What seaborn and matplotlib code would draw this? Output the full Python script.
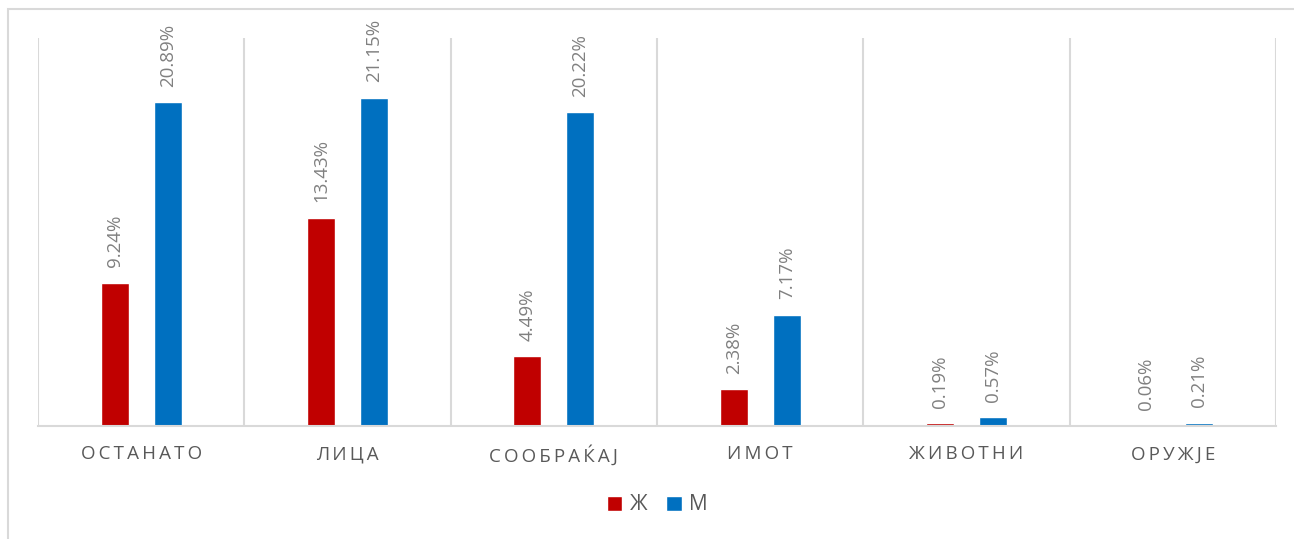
import matplotlib.pyplot as plt
import pandas as pd
import seaborn as sns
from matplotlib.patches import Rectangle

# categories and values (percent)
kategorii = ["ОСТАНАТО", "ЛИЦА", "СООБРАЌАЈ", "ИМОТ", "ЖИВОТНИ", "ОРУЖЈЕ"]
zeni = [9.24, 13.43, 4.49, 2.38, 0.19, 0.06]
mazi = [20.89, 21.15, 20.22, 7.17, 0.57, 0.21]
polovi = ["Ж", "М"]
boi = ["#C00000", "#0070C0"]

df = pd.DataFrame({
    "kategorija": kategorii * 2,
    "pol": [polovi[0]] * len(kategorii) + [polovi[1]] * len(kategorii),
    "procent": zeni + mazi,
})

sns.set_style("white")
plt.rcParams["font.family"] = ["Open Sans", "DejaVu Sans"]

W, H = 1294, 539
fig = plt.figure(figsize=(W / 100, H / 100), dpi=100)
ax = fig.add_axes([38 / W, 1 - 426 / H, (1276 - 38) / W, (426 - 38) / H])

sns.barplot(
    data=df, x="kategorija", y="procent", hue="pol",
    palette=boi, saturation=1, width=0.514, gap=0.47, ax=ax, legend=True,
)

ax.set_ylim(0, 25)
ax.set_xlim(-0.5, len(kategorii) - 0.5)
ax.set_xlabel("")
ax.set_ylabel("")
ax.set_yticks([])

# category separators
for gx in [i - 0.5 for i in range(len(kategorii) + 1)]:
    ax.axvline(gx, color="#D9D9D9", lw=1.5, zorder=0)

for s in ["top", "right", "left"]:
    ax.spines[s].set_visible(False)
ax.spines["bottom"].set_color("#D9D9D9")
ax.spines["bottom"].set_linewidth(1.5)

# spaced-out category labels
ax.set_xticks(range(len(kategorii)))
ax.set_xticklabels(["\u2009".join(k) for k in kategorii],
                   color="#595959", fontsize=13.5)
ax.tick_params(axis="x", length=0, pad=14)

for cont in ax.containers:
    ax.bar_label(cont, labels=[f"{v:.2f}%" for v in cont.datavalues],
                 rotation=90, padding=11, color="#808080", fontsize=13.5)

leg = ax.legend(
    loc="center", bbox_to_anchor=(0.5, (1 - 505 / H - (1 - 426 / H)) / ((426 - 38) / H)),
    ncol=2, frameon=False, fontsize=15, handlelength=0.75, handleheight=0.75,
    handletextpad=0.35, columnspacing=0.9,
)
for t in leg.get_texts():
    t.set_color("#595959")

# chart frame (left and top edges visible)
fig.patches.append(Rectangle((8 / W, -0.05), 1.2, 1 - 9 / H + 0.05,
                             transform=fig.transFigure, fill=False,
                             edgecolor="#D9D9D9", lw=1.5))

fig.savefig("out.png", dpi=100)
